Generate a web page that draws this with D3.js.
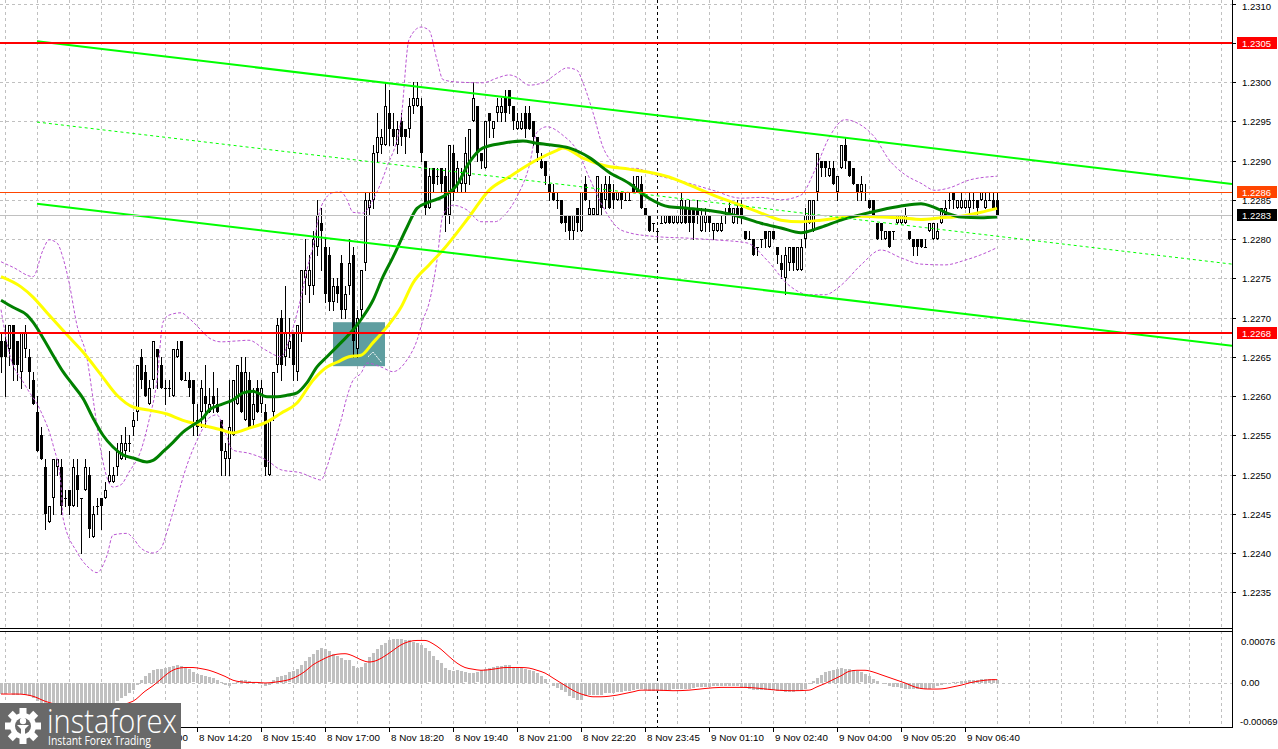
<!DOCTYPE html>
<html>
<head>
<meta charset="utf-8">
<script src="https://cdn.jsdelivr.net/npm/d3@7"></script>
<style>
html, body { margin: 0; padding: 0; background: #fff; }
svg { display: block; font-family: "Liberation Sans", Arial, sans-serif; }
</style>
</head>
<body>
<div id="chart"></div>
<script>
// ---- Data (bar index = 5-minute bar, 0 = first visible bar) ----
const openP = [
1.2267,1.2267,1.2266,1.2269,1.2267,1.2263,1.2266,1.2265,1.2262,1.2258,
1.2255,1.2251,1.2244,1.2247,1.2251,1.2251,1.2247,1.2248,1.2246,1.2250,
1.2247,1.2248,1.2250,1.2242,1.2246,1.2247,1.2247,1.2249,1.2249,1.2251,
1.2252,1.2253,1.2254,1.2256,1.2258,1.2265,1.2263,1.2259,1.2262,1.2266,
1.2264,1.2261,1.2261,1.2260,1.2265,1.2267,1.2262,1.2262,1.2262,1.2257,
1.2258,1.2260,1.2258,1.2260,1.2259,1.2257,1.2252,1.2252,1.2255,1.2259,
1.2263,1.2257,1.2262,1.2257,1.2261,1.2259,1.2258,1.2250,1.2258,1.2264,
1.2270,1.2265,1.2266,1.2268,1.2263,1.2268,1.2275,1.2274,1.2274,1.2279,
1.2282,1.2279,1.2278,1.2272,1.2274,1.2277,1.2271,1.2274,1.2278,1.2266,
1.2271,1.2277,1.2284,1.2285,1.2291,1.2292,1.2292,1.2296,1.2294,1.2292,
1.2295,1.2294,1.2294,1.2297,1.2297,1.2297,1.2290,1.2284,1.2289,1.2288,
1.2289,1.2288,1.2283,1.2291,1.2287,1.2287,1.2287,1.2288,1.2295,1.2297,
1.2291,1.2289,1.2296,1.2294,1.2296,1.2296,1.2298,1.2299,1.2297,1.2294,
1.2294,1.2296,1.2296,1.2295,1.2293,1.2290,1.2290,1.2287,1.2286,1.2285,
1.2285,1.2283,1.2283,1.2281,1.2284,1.2281,1.2287,1.2283,1.2283,1.2283,
1.2286,1.2285,1.2287,1.2286,1.2285,1.2286,1.2285,1.2285,1.2287,1.2286,
1.2287,1.2284,1.2283,1.2282,1.2281,1.2282,1.2282,1.2283,1.2282,1.2282,
1.2282,1.2284,1.2284,1.2284,1.2284,1.2281,1.2282,1.2283,1.2281,1.2281,
1.2281,1.2283,1.2284,1.2282,1.2284,1.2284,1.2281,1.2280,1.2280,1.2279,
1.2280,1.2281,1.2279,1.2281,1.2279,1.2277,1.2275,1.2277,1.2279,1.2276,
1.2276,1.2280,1.2282,1.2281,1.2286,1.2290,1.2290,1.2288,1.2289,1.2286,
1.2289,1.2292,1.2290,1.2289,1.2287,1.2286,1.2286,1.2285,1.2285,1.2282,
1.2282,1.2280,1.2281,1.2281,1.2282,1.2282,1.2282,1.2281,1.2280,1.2280,
1.2280,1.2279,1.2281,1.2280,1.2280,1.2282,1.2283,1.2285,1.2286,1.2284,
1.2284,1.2284,1.2284,1.2285,1.2285,1.2285,1.2284,1.2285,1.2285,1.2285
];
const highP = [
1.2268,1.2269,1.2269,1.2269,1.2267,1.2268,1.2269,1.2266,1.2263,1.2260,
1.2256,1.2252,1.2246,1.2252,1.2252,1.2252,1.2248,1.2248,1.2252,1.2252,
1.2247,1.2252,1.2251,1.2246,1.2247,1.2247,1.2249,1.2253,1.2251,1.2254,
1.2255,1.2256,1.2255,1.2258,1.2264,1.2266,1.2264,1.2262,1.2267,1.2266,
1.2265,1.2262,1.2262,1.2266,1.2267,1.2267,1.2263,1.2263,1.2262,1.2259,
1.2262,1.2264,1.2261,1.2263,1.2261,1.2257,1.2254,1.2262,1.2262,1.2264,
1.2265,1.2265,1.2263,1.2261,1.2262,1.2262,1.2259,1.2257,1.2263,1.2270,
1.2271,1.2274,1.2270,1.2268,1.2269,1.2276,1.2280,1.2278,1.2281,1.2285,
1.2284,1.2280,1.2279,1.2275,1.2275,1.2278,1.2274,1.2280,1.2279,1.2271,
1.2276,1.2286,1.2286,1.2292,1.2296,1.2294,1.2300,1.2299,1.2296,1.2295,
1.2296,1.2294,1.2298,1.2300,1.2300,1.2298,1.2290,1.2289,1.2289,1.2289,
1.2289,1.2289,1.2292,1.2292,1.2290,1.2289,1.2293,1.2294,1.2300,1.2297,
1.2291,1.2295,1.2296,1.2295,1.2298,1.2298,1.2299,1.2299,1.2297,1.2296,
1.2296,1.2297,1.2297,1.2295,1.2293,1.2291,1.2290,1.2288,1.2287,1.2286,
1.2285,1.2283,1.2283,1.2283,1.2284,1.2286,1.2288,1.2285,1.2284,1.2288,
1.2287,1.2288,1.2288,1.2287,1.2286,1.2286,1.2286,1.2286,1.2288,1.2288,
1.2288,1.2284,1.2283,1.2282,1.2281,1.2283,1.2283,1.2283,1.2283,1.2283,
1.2286,1.2285,1.2285,1.2284,1.2285,1.2284,1.2284,1.2283,1.2282,1.2282,
1.2283,1.2284,1.2285,1.2284,1.2285,1.2285,1.2281,1.2281,1.2280,1.2279,
1.2280,1.2281,1.2281,1.2281,1.2279,1.2278,1.2279,1.2279,1.2279,1.2279,
1.2280,1.2284,1.2285,1.2285,1.2291,1.2290,1.2290,1.2290,1.2290,1.2288,
1.2292,1.2293,1.2290,1.2289,1.2287,1.2288,1.2287,1.2285,1.2285,1.2282,
1.2282,1.2281,1.2281,1.2281,1.2283,1.2283,1.2284,1.2281,1.2280,1.2280,
1.2280,1.2280,1.2282,1.2282,1.2282,1.2284,1.2285,1.2286,1.2286,1.2285,
1.2286,1.2285,1.2286,1.2286,1.2285,1.2286,1.2286,1.2286,1.2286,1.2286
];
const lowP = [
1.2263,1.2260,1.2264,1.2262,1.2262,1.2261,1.2265,1.2261,1.2259,1.2253,
1.2252,1.2243,1.2244,1.2245,1.2250,1.2245,1.2246,1.2245,1.2246,1.2246,
1.2240,1.2248,1.2242,1.2242,1.2245,1.2243,1.2247,1.2249,1.2249,1.2250,
1.2252,1.2252,1.2253,1.2255,1.2257,1.2261,1.2260,1.2259,1.2261,1.2261,
1.2261,1.2259,1.2260,1.2260,1.2265,1.2262,1.2262,1.2260,1.2255,1.2255,
1.2256,1.2256,1.2258,1.2258,1.2258,1.2250,1.2250,1.2250,1.2255,1.2259,
1.2258,1.2257,1.2256,1.2256,1.2258,1.2258,1.2250,1.2250,1.2257,1.2263,
1.2262,1.2264,1.2265,1.2262,1.2262,1.2267,1.2273,1.2272,1.2273,1.2278,
1.2276,1.2272,1.2271,1.2271,1.2272,1.2270,1.2270,1.2273,1.2265,1.2265,
1.2270,1.2276,1.2283,1.2284,1.2290,1.2291,1.2292,1.2292,1.2292,1.2291,
1.2292,1.2291,1.2293,1.2296,1.2297,1.2290,1.2283,1.2284,1.2286,1.2287,
1.2286,1.2281,1.2282,1.2285,1.2286,1.2286,1.2286,1.2287,1.2295,1.2290,
1.2289,1.2289,1.2293,1.2293,1.2295,1.2295,1.2295,1.2296,1.2294,1.2294,
1.2294,1.2293,1.2294,1.2292,1.2290,1.2289,1.2287,1.2285,1.2285,1.2284,
1.2282,1.2281,1.2280,1.2280,1.2281,1.2281,1.2285,1.2283,1.2283,1.2283,
1.2283,1.2284,1.2284,1.2284,1.2285,1.2284,1.2285,1.2285,1.2286,1.2286,
1.2284,1.2283,1.2281,1.2281,1.2280,1.2282,1.2282,1.2282,1.2282,1.2282,
1.2282,1.2282,1.2281,1.2280,1.2282,1.2281,1.2281,1.2281,1.2280,1.2281,
1.2281,1.2282,1.2283,1.2282,1.2282,1.2282,1.2280,1.2280,1.2278,1.2278,
1.2279,1.2279,1.2279,1.2280,1.2277,1.2275,1.2273,1.2276,1.2276,1.2276,
1.2276,1.2279,1.2282,1.2281,1.2285,1.2288,1.2288,1.2288,1.2287,1.2285,
1.2289,1.2289,1.2288,1.2287,1.2285,1.2285,1.2285,1.2284,1.2283,1.2280,
1.2280,1.2280,1.2279,1.2280,1.2282,1.2282,1.2282,1.2280,1.2278,1.2278,
1.2279,1.2279,1.2281,1.2280,1.2280,1.2282,1.2283,1.2284,1.2284,1.2284,
1.2284,1.2284,1.2283,1.2284,1.2283,1.2285,1.2284,1.2285,1.2284,1.2283
];
const closeP = [
1.2265,1.2265,1.2269,1.2264,1.2264,1.2268,1.2268,1.2263,1.2259,1.2253,
1.2252,1.2245,1.2246,1.2252,1.2252,1.2246,1.2247,1.2246,1.2251,1.2248,
1.2247,1.2251,1.2243,1.2245,1.2246,1.2246,1.2248,1.2250,1.2250,1.2253,
1.2254,1.2254,1.2254,1.2257,1.2264,1.2262,1.2260,1.2261,1.2267,1.2265,
1.2261,1.2261,1.2261,1.2266,1.2266,1.2262,1.2262,1.2261,1.2259,1.2256,
1.2261,1.2259,1.2259,1.2259,1.2258,1.2253,1.2253,1.2256,1.2262,1.2264,
1.2258,1.2263,1.2256,1.2259,1.2258,1.2261,1.2251,1.2257,1.2263,1.2269,
1.2264,1.2268,1.2267,1.2264,1.2269,1.2276,1.2276,1.2276,1.2280,1.2283,
1.2281,1.2273,1.2272,1.2274,1.2273,1.2271,1.2273,1.2277,1.2267,1.2270,
1.2276,1.2285,1.2285,1.2291,1.2293,1.2293,1.2297,1.2294,1.2293,1.2294,
1.2293,1.2293,1.2297,1.2298,1.2298,1.2291,1.2284,1.2288,1.2287,1.2288,
1.2287,1.2283,1.2292,1.2286,1.2289,1.2288,1.2291,1.2294,1.2298,1.2291,
1.2290,1.2295,1.2295,1.2295,1.2297,1.2297,1.2296,1.2297,1.2295,1.2295,
1.2295,1.2294,1.2294,1.2293,1.2291,1.2289,1.2288,1.2286,1.2285,1.2285,
1.2282,1.2282,1.2281,1.2283,1.2282,1.2286,1.2285,1.2284,1.2284,1.2288,
1.2284,1.2287,1.2284,1.2285,1.2286,1.2285,1.2285,1.2285,1.2286,1.2288,
1.2284,1.2283,1.2281,1.2282,1.2281,1.2282,1.2283,1.2282,1.2283,1.2283,
1.2285,1.2282,1.2282,1.2282,1.2283,1.2283,1.2283,1.2282,1.2282,1.2282,
1.2282,1.2283,1.2283,1.2284,1.2283,1.2283,1.2280,1.2280,1.2278,1.2279,
1.2280,1.2280,1.2281,1.2280,1.2278,1.2276,1.2278,1.2279,1.2277,1.2279,
1.2279,1.2283,1.2285,1.2285,1.2291,1.2289,1.2289,1.2289,1.2287,1.2288,
1.2292,1.2290,1.2288,1.2287,1.2286,1.2287,1.2286,1.2284,1.2283,1.2280,
1.2281,1.2281,1.2279,1.2281,1.2283,1.2283,1.2283,1.2280,1.2279,1.2279,
1.2279,1.2279,1.2282,1.2282,1.2281,1.2284,1.2284,1.2285,1.2285,1.2285,
1.2285,1.2285,1.2285,1.2285,1.2284,1.2286,1.2285,1.2285,1.2284,1.2283
];

// moving averages and Bollinger bands: [bar, price]
const maSlow = [[0,1.22752],[5,1.22739],[8,1.22726],[11.5,1.22706],[16.5,1.22678],[20.5,1.22656],[25,1.22627],[29,1.22601],[33,1.22586],[37,1.22582],[41.5,1.22577],[45.5,1.22569],[50,1.22563],[55,1.22557],[58,1.22553],[62,1.22559],[66.5,1.22567],[70,1.22578],[74,1.22591],[78,1.22620],[81.5,1.22637],[84,1.22643],[87,1.22650],[90,1.22652],[93,1.22668],[96.5,1.22688],[100,1.22713],[103,1.22744],[107,1.22767],[110.5,1.22786],[117,1.22828],[122,1.22862],[127,1.22879],[134,1.22901],[139,1.22913],[140.5,1.22916],[145.5,1.22903],[150.5,1.22894],[157,1.22889],[162,1.22885],[167,1.22879],[172,1.22869],[180,1.22852],[185,1.22843],[190,1.22833],[195,1.22824],[200,1.22822],[205,1.22824],[210,1.22827],[215,1.22829],[220,1.22828],[225,1.22827],[230,1.22825],[235,1.22827],[240,1.22829],[245,1.22834],[249,1.22839]];
const maFast = [[0,1.22722],[3,1.22713],[6.5,1.22703],[8,1.22694],[10.5,1.22674],[13,1.22652],[15.5,1.22631],[18,1.22614],[20.5,1.22597],[23,1.22572],[25.5,1.22550],[28,1.22535],[30.5,1.22525],[33,1.22521],[36.5,1.22516],[38,1.22518],[40.5,1.22529],[43,1.22541],[45.5,1.22554],[48,1.22563],[50.5,1.22572],[52,1.22582],[55,1.22589],[58,1.22595],[60.5,1.22604],[63,1.22606],[66.5,1.22599],[69,1.22599],[71.5,1.22601],[74,1.22604],[76.5,1.22617],[79,1.22637],[81.5,1.22650],[85,1.22668],[88,1.22684],[90.5,1.22701],[93,1.22722],[95.5,1.22752],[98,1.22777],[101.5,1.22815],[104,1.22839],[107,1.22847],[110.5,1.22854],[114,1.22869],[117,1.22897],[120.5,1.22916],[125.5,1.22922],[130.5,1.22925],[134,1.22922],[137,1.22920],[142,1.22916],[147,1.22904],[152,1.22885],[157,1.22871],[162,1.22852],[167,1.22841],[172,1.22839],[180,1.22834],[185,1.22828],[190,1.22820],[195,1.22814],[200,1.22808],[205,1.22815],[210,1.22824],[215,1.22831],[220,1.22837],[225,1.22842],[230,1.22845],[233,1.22841],[236.5,1.22833],[240,1.22828],[245,1.22827],[249,1.22828]];
const bandUpper = [[0,1.22771],[3,1.22764],[8,1.22752],[10.5,1.22786],[12,1.22799],[14,1.22795],[15.5,1.22776],[17,1.22745],[19,1.22690],[21.5,1.22648],[23,1.22597],[25,1.22529],[26.5,1.22496],[28,1.22484],[30,1.22487],[32,1.22503],[35,1.22531],[37,1.22569],[39,1.22620],[40.5,1.22694],[42,1.22703],[45,1.22706],[47,1.22699],[50,1.22684],[52,1.22674],[55,1.22669],[58.5,1.22670],[62,1.22671],[66,1.22659],[70,1.22650],[72,1.22671],[75,1.22726],[76.5,1.22761],[78,1.22790],[80,1.22841],[83,1.22859],[85,1.22860],[86.5,1.22850],[88,1.22834],[90.5,1.22833],[93,1.22850],[96.5,1.22892],[100,1.22952],[102,1.23054],[105,1.23070],[107,1.23066],[109,1.23028],[110.5,1.23003],[114,1.23000],[120.5,1.22999],[124,1.23005],[127,1.23009],[129,1.23006],[132,1.22996],[135.5,1.22999],[139,1.23011],[141.5,1.23018],[144,1.23015],[145.5,1.22999],[148,1.22961],[150.5,1.22917],[153,1.22897],[155.5,1.22890],[159,1.22890],[162,1.22884],[165.5,1.22879],[169,1.22875],[172,1.22871],[178,1.22862],[185,1.22852],[190,1.22853],[195,1.22850],[200,1.22856],[203.5,1.22888],[207,1.22929],[211,1.22952],[215,1.22945],[218.5,1.22929],[222,1.22901],[226,1.22882],[230,1.22871],[233.5,1.22862],[237,1.22865],[242,1.22875],[249,1.22880]];
const bandLower = [[0,1.22710],[2,1.22656],[6,1.22614],[10,1.22580],[13,1.22538],[15,1.22487],[15.5,1.22445],[19,1.22401],[22,1.22381],[24,1.22375],[26.5,1.22397],[28,1.22423],[31.5,1.22425],[33,1.22419],[35,1.22406],[38,1.22400],[40,1.22406],[41.5,1.22427],[44,1.22470],[46.5,1.22512],[50,1.22554],[52,1.22572],[54,1.22576],[56,1.22554],[58,1.22531],[62,1.22527],[66.5,1.22518],[70,1.22506],[75,1.22502],[78,1.22496],[80,1.22493],[81.5,1.22510],[83,1.22535],[85,1.22569],[86.5,1.22599],[88,1.22620],[90,1.22629],[91.5,1.22642],[95,1.22637],[98,1.22631],[101.5,1.22646],[104,1.22671],[105.5,1.22697],[107,1.22718],[109,1.22773],[110.5,1.22831],[113,1.22843],[116.5,1.22837],[120,1.22822],[123.5,1.22822],[126,1.22831],[129,1.22854],[132,1.22892],[134,1.22936],[136.5,1.22943],[140.5,1.22932],[144,1.22913],[147,1.22879],[150.5,1.22841],[154,1.22815],[157,1.22808],[164,1.22803],[172,1.22801],[178,1.22799],[186.5,1.22795],[191.5,1.22773],[197,1.22741],[202,1.22729],[206,1.22729],[210,1.22741],[215,1.22767],[220,1.22786],[225,1.22776],[230,1.22768],[236,1.22767],[241,1.22773],[246,1.22782],[249,1.22789]];

// trend channel: [bar, price] end points
const channelUpper = [[9,1.23052],[307.75,1.22870]];
const channelMiddle = [[9,1.22949],[307.75,1.22768]];
const channelLower = [[9,1.22845],[307.75,1.22664]];

// horizontal levels
const levelPrices = [1.2305, 1.2268];
const askPrice = 1.2286;
const bidPrice = 1.2283;

// highlighted zone
const zoneBars = [83, 96];
const zonePrices = [1.22694, 1.22638];
const zoneMark = [[91.75,1.22650],[93,1.22656],[95.25,1.22642]];

// MACD main (histogram), per bar
const macdMain = [
-20e-5,-20e-5,-19e-5,-21e-5,-22e-5,-20e-5,-21e-5,-23e-5,-27e-5,-33e-5,
-38e-5,-46e-5,-52e-5,-53e-5,-54e-5,-56e-5,-56e-5,-56e-5,-54e-5,-54e-5,
-55e-5,-53e-5,-56e-5,-56e-5,-55e-5,-52e-5,-48e-5,-43e-5,-38e-5,-33e-5,
-28e-5,-23e-5,-18e-5,-12e-5,-4e-5,6e-5,12e-5,18e-5,23e-5,26e-5,
26e-5,27e-5,29e-5,31e-5,33e-5,31e-5,29e-5,25e-5,19e-5,17e-5,
15e-5,13e-5,10e-5,9e-5,6e-5,2e-5,-3e-5,-6e-5,-2e-5,1e-5,
5e-5,6e-5,3e-5,1e-5,0,-1e-5,-5e-5,-3e-5,5e-5,10e-5,
12e-5,15e-5,19e-5,21e-5,25e-5,33e-5,39e-5,47e-5,53e-5,59e-5,
63e-5,61e-5,57e-5,53e-5,49e-5,45e-5,42e-5,41e-5,30e-5,27e-5,
29e-5,37e-5,47e-5,54e-5,61e-5,69e-5,73e-5,78e-5,80e-5,80e-5,
79e-5,78e-5,77e-5,75e-5,73e-5,69e-5,63e-5,57e-5,49e-5,42e-5,
36e-5,27e-5,23e-5,21e-5,24e-5,21e-5,19e-5,18e-5,18e-5,19e-5,
24e-5,25e-5,27e-5,29e-5,30e-5,31e-5,33e-5,32e-5,29e-5,27e-5,
27e-5,25e-5,24e-5,21e-5,18e-5,12e-5,7e-5,0,-5e-5,-9e-5,
-12e-5,-17e-5,-23e-5,-27e-5,-30e-5,-30e-5,-24e-5,-21e-5,-21e-5,-21e-5,
-21e-5,-19e-5,-19e-5,-18e-5,-17e-5,-16e-5,-15e-5,-14e-5,-12e-5,-11e-5,
-11e-5,-13e-5,-15e-5,-15e-5,-15e-5,-14e-5,-12e-5,-12e-5,-11e-5,-11e-5,
-11e-5,-10e-5,-10e-5,-9e-5,-8e-5,-7e-5,-7e-5,-7e-5,-6e-5,-6e-5,
-6e-5,-6e-5,-6e-5,-6e-5,-6e-5,-7e-5,-9e-5,-11e-5,-12e-5,-12e-5,
-12e-5,-12e-5,-12e-5,-13e-5,-14e-5,-15e-5,-17e-5,-17e-5,-16e-5,-15e-5,
-14e-5,-10e-5,-1e-5,3e-5,9e-5,15e-5,19e-5,22e-5,24e-5,25e-5,
27e-5,26e-5,25e-5,23e-5,21e-5,19e-5,17e-5,12e-5,7e-5,3e-5,
0,-2e-5,-5e-5,-7e-5,-8e-5,-9e-5,-10e-5,-11e-5,-11e-5,-10e-5,
-10e-5,-11e-5,-10e-5,-9e-5,-6e-5,-4e-5,-2e-5,0,1e-5,2e-5,
3e-5,4e-5,5e-5,5e-5,6e-5,7e-5,7e-5,7e-5,7e-5,6e-5
];
// MACD signal line: [bar, value]
const macdSignal = [[0,-20e-5],[4,-20e-5],[8,-24e-5],[11,-33e-5],[16,-42e-5],[22,-46e-5],[28,-42e-5],[33,-33e-5],[36,-15e-5],[38,-5e-5],[40,7e-5],[42,19e-5],[44,26e-5],[46,28e-5],[48,28e-5],[50,26e-5],[52,23e-5],[54,18e-5],[56,12e-5],[58,5e-5],[60,2e-5],[62,1e-5],[64,1e-5],[66,0],[68,1e-5],[70,3e-5],[72,6e-5],[74,12e-5],[76,21e-5],[78,33e-5],[80,41e-5],[82,48e-5],[84,52e-5],[86,53e-5],[88,49e-5],[90,42e-5],[92,38e-5],[94,41e-5],[96,49e-5],[98,59e-5],[100,69e-5],[102,75e-5],[104,77e-5],[106,77e-5],[108,71e-5],[110,61e-5],[112,48e-5],[114,36e-5],[116,28e-5],[118,25e-5],[120,23e-5],[122,24e-5],[124,26e-5],[126,28e-5],[128,28e-5],[130,28e-5],[132,27e-5],[134,23e-5],[136,18e-5],[138,9e-5],[140,0],[142,-9e-5],[144,-17e-5],[146,-22e-5],[148,-25e-5],[150,-25e-5],[152,-24e-5],[154,-22e-5],[156,-19e-5],[158,-16e-5],[160,-13e-5],[164,-13e-5],[168,-14e-5],[172,-13e-5],[176,-10e-5],[180,-8e-5],[186,-8e-5],[190,-10e-5],[194,-13e-5],[198,-14e-5],[202,-13e-5],[204,-7e-5],[206,-1e-5],[208,6e-5],[210,13e-5],[212,21e-5],[214,23e-5],[216,23e-5],[218,20e-5],[220,15e-5],[222,10e-5],[224,5e-5],[226,0],[228,-6e-5],[230,-10e-5],[232,-11e-5],[234,-11e-5],[236,-10e-5],[238,-7e-5],[240,-4e-5],[242,0],[244,3e-5],[246,5e-5],[248,6e-5],[249,6e-5]];

// axis labels
const priceTicks = [1.2310,1.2305,1.2300,1.2295,1.2290,1.2285,1.2280,1.2275,1.2270,1.2265,1.2260,1.2255,1.2250,1.2245,1.2240,1.2235];
const macdTicks = [0.00076, 0, -0.00069];
const macdTickLabels = ["0.00076", "0.00", "-0.00069"];
// the labels for 10:20 and 11:40 sit fully under the logo in the source, only 13:00 peeks out
const timeLabelBars = [33,49,65,81,97,113,129,145,161,177,193,209,225,241];
const timeLabels = ["8 Nov 13:00","8 Nov 14:20","8 Nov 15:40","8 Nov 17:00","8 Nov 18:20","8 Nov 19:40","8 Nov 21:00","8 Nov 22:20","8 Nov 23:45","9 Nov 01:10","9 Nov 02:40","9 Nov 04:00","9 Nov 05:20","9 Nov 06:40"];
const daySeparatorBar = 164;

// ---- Layout ----
const W = 1278, H = 749;
const axisX = 1232, mainBottom = 628, macdTop = 631, macdBottom = 727;
const logoW = 181, logoTop = 703;

const x = d3.scaleLinear().domain([0, 1]).range([1, 5]);
const y = d3.scaleLinear().domain([1.2230, 1.2310]).range([631.5, 3.5]);
const ym = d3.scaleLinear().domain([-0.00069, 0.00076]).range([721.1, 641]);
const lastBar = x.invert(axisX);

const svg = d3.select("#chart").append("svg").attr("width", W).attr("height", H);
const defs = svg.append("defs");
defs.append("clipPath").attr("id", "clipMain").append("rect")
  .attr("x", 0).attr("y", 0).attr("width", axisX).attr("height", mainBottom);
defs.append("clipPath").attr("id", "clipMacd").append("rect")
  .attr("x", 0).attr("y", macdTop + 1).attr("width", axisX).attr("height", macdBottom - macdTop - 1);
defs.append("clipPath").attr("id", "clipTime").append("rect")
  .attr("x", logoW).attr("y", macdBottom).attr("width", axisX - logoW).attr("height", H - macdBottom);

const grid = "#c0c0c0";
const px = v => Math.round(x(v)) + 0.5;

// grid
const gGrid = svg.append("g").attr("shape-rendering", "crispEdges")
  .attr("stroke", grid).attr("stroke-dasharray", "3,3");
const gridBars = d3.range(1, lastBar, 8);
gGrid.selectAll("line.vm").data(gridBars).join("line")
  .attr("x1", d => px(d)).attr("x2", d => px(d)).attr("y1", 0).attr("y2", mainBottom);
gGrid.selectAll("line.vd").data(gridBars).join("line")
  .attr("x1", d => px(d)).attr("x2", d => px(d)).attr("y1", macdTop).attr("y2", macdBottom);
gGrid.selectAll("line.h").data(priceTicks).join("line")
  .attr("x1", 0).attr("x2", axisX).attr("y1", d => Math.round(y(d)) + 0.5).attr("y2", d => Math.round(y(d)) + 0.5);
gGrid.append("line").attr("x1", 0).attr("x2", axisX)
  .attr("y1", Math.round(ym(0)) + 0.5).attr("y2", Math.round(ym(0)) + 0.5);

// day separator
svg.append("line").attr("shape-rendering", "crispEdges")
  .attr("x1", px(daySeparatorBar)).attr("x2", px(daySeparatorBar))
  .attr("y1", 0).attr("y2", macdBottom)
  .attr("stroke", "#000").attr("stroke-dasharray", "3,3");

const main = svg.append("g").attr("clip-path", "url(#clipMain)");

// highlighted zone (background object)
main.append("rect")
  .attr("x", x(zoneBars[0])).attr("y", y(zonePrices[0]))
  .attr("width", x(zoneBars[1]) - x(zoneBars[0]))
  .attr("height", y(zonePrices[1]) - y(zonePrices[0]))
  .attr("fill", "#5f9ea0");
main.append("path").datum(zoneMark)
  .attr("d", d3.line().x(d => x(d[0])).y(d => y(d[1])))
  .attr("fill", "none").attr("stroke", "#fff").attr("stroke-width", 1).attr("stroke-dasharray", "2,1");

// candles
const candles = openP.map((o, i) => ({ i, o, h: highP[i], l: lowP[i], c: closeP[i] }));
const gC = main.append("g").attr("shape-rendering", "crispEdges");
gC.selectAll("line").data(candles).join("line")
  .attr("x1", d => px(d.i)).attr("x2", d => px(d.i))
  .attr("y1", d => Math.round(y(d.h))).attr("y2", d => Math.round(y(d.l)) + 1)
  .attr("stroke", "#000");
gC.selectAll("rect").data(candles).join("rect")
  .each(function (d) {
    const xc = Math.round(x(d.i));
    const yo = Math.round(y(d.o)), yc = Math.round(y(d.c));
    const r = d3.select(this);
    if (d.c > d.o) {
      r.attr("x", xc - 0.5).attr("y", yc + 0.5).attr("width", 2).attr("height", Math.max(yo - yc - 1, 0))
        .attr("fill", "#fff").attr("stroke", "#000");
    } else if (d.c < d.o) {
      r.attr("x", xc - 1).attr("y", yo).attr("width", 3).attr("height", Math.max(yc - yo, 1)).attr("fill", "#000");
    } else {
      r.attr("x", xc - 1).attr("y", yo).attr("width", 3).attr("height", 1).attr("fill", "#000");
    }
  });

// indicators
const priceLine = d3.line().x(d => x(d[0])).y(d => y(d[1])).curve(d3.curveMonotoneX);
[bandUpper, bandLower].forEach(b => {
  main.append("path").datum(b).attr("d", priceLine)
    .attr("fill", "none").attr("stroke", "#ba55d3").attr("stroke-width", 1).attr("stroke-dasharray", "3,2");
});
main.append("path").datum(maSlow).attr("d", priceLine)
  .attr("fill", "none").attr("stroke", "#ffff00").attr("stroke-width", 3);
main.append("path").datum(maFast).attr("d", priceLine)
  .attr("fill", "none").attr("stroke", "#008000").attr("stroke-width", 3);

// trend channel
const straight = d3.line().x(d => x(d[0])).y(d => y(d[1]));
[channelUpper, channelLower].forEach(c => {
  main.append("path").datum(c).attr("d", straight).attr("stroke", "#00ff00").attr("stroke-width", 2).attr("fill", "none");
});
main.append("path").datum(channelMiddle).attr("d", straight)
  .attr("stroke", "#00ff00").attr("stroke-width", 1).attr("stroke-dasharray", "3,3").attr("fill", "none");

// horizontal levels
const gLev = main.append("g").attr("shape-rendering", "crispEdges");
gLev.append("line").attr("x1", 0).attr("x2", axisX)
  .attr("y1", Math.round(y(bidPrice)) + 0.5).attr("y2", Math.round(y(bidPrice)) + 0.5).attr("stroke", "#c0c0c0");
gLev.append("line").attr("x1", 0).attr("x2", axisX)
  .attr("y1", Math.round(y(askPrice)) + 0.5).attr("y2", Math.round(y(askPrice)) + 0.5).attr("stroke", "#ff4500");
gLev.selectAll("line.lv").data(levelPrices).join("line")
  .attr("x1", 0).attr("x2", axisX).attr("y1", d => Math.round(y(d))).attr("y2", d => Math.round(y(d)))
  .attr("stroke", "#ff0000").attr("stroke-width", 2);

// MACD panel
const macd = svg.append("g").attr("clip-path", "url(#clipMacd)");
macd.append("g").attr("shape-rendering", "crispEdges").selectAll("rect").data(macdMain).join("rect")
  .attr("x", (d, i) => Math.round(x(i)) - 1).attr("width", 3)
  .attr("y", d => Math.round(Math.min(ym(d), ym(0))))
  .attr("height", d => Math.max(Math.round(Math.abs(ym(d) - ym(0))), d === 0 ? 0 : 1))
  .attr("fill", "#c0c0c0");
macd.append("path").datum(macdSignal)
  .attr("d", d3.line().x(d => x(d[0])).y(d => ym(d[1])).curve(d3.curveMonotoneX))
  .attr("fill", "none").attr("stroke", "#ff0000").attr("stroke-width", 1);

// frames
const gFrame = svg.append("g").attr("shape-rendering", "crispEdges").attr("stroke", "#000");
gFrame.append("line").attr("x1", axisX + 0.5).attr("x2", axisX + 0.5).attr("y1", 0).attr("y2", macdBottom + 1);
gFrame.append("line").attr("x1", 0).attr("x2", axisX).attr("y1", mainBottom + 0.5).attr("y2", mainBottom + 0.5);
gFrame.append("line").attr("x1", 0).attr("x2", axisX).attr("y1", macdTop + 0.5).attr("y2", macdTop + 0.5);
gFrame.append("line").attr("x1", 0).attr("x2", axisX).attr("y1", macdBottom + 0.5).attr("y2", macdBottom + 0.5);

// price axis
const gAx = svg.append("g");
gAx.selectAll("line").data(priceTicks).join("line").attr("shape-rendering", "crispEdges")
  .attr("x1", axisX).attr("x2", axisX + 4).attr("y1", d => Math.round(y(d)) + 0.5).attr("y2", d => Math.round(y(d)) + 0.5)
  .attr("stroke", "#000");
gAx.selectAll("text").data(priceTicks).join("text")
  .attr("x", axisX + 10).attr("y", d => Math.max(y(d) + 4, 9.5))
  .attr("font-size", "9.5px").attr("fill", "#000").text(d => d.toFixed(4));

// price boxes
const boxes = [
  { p: levelPrices[0], fill: "#ff0000" },
  { p: askPrice, fill: "#ff4500" },
  { p: bidPrice, fill: "#000000" },
  { p: levelPrices[1], fill: "#ff0000" }
];
const gBox = svg.append("g");
gBox.selectAll("rect").data(boxes).join("rect").attr("shape-rendering", "crispEdges")
  .attr("x", axisX + 5).attr("y", d => Math.round(y(d.p)) - 6).attr("width", 40).attr("height", 12)
  .attr("fill", d => d.fill);
gBox.selectAll("text").data(boxes).join("text")
  .attr("x", axisX + 10).attr("y", d => Math.round(y(d.p)) + 3.5)
  .attr("font-size", "9.5px").attr("fill", "#fff").text(d => d.p.toFixed(4));

// MACD axis
svg.append("g").selectAll("text").data(macdTicks).join("text")
  .attr("x", (d, i) => axisX + (i === 2 ? 8 : 9)).attr("y", d => ym(d) + 3.5)
  .attr("font-size", "9.5px").attr("fill", "#000").text((d, i) => macdTickLabels[i]);

// time axis (the logo covers its left end)
const gT = svg.append("g").attr("clip-path", "url(#clipTime)");
gT.selectAll("line").data(timeLabelBars).join("line").attr("shape-rendering", "crispEdges")
  .attr("x1", d => px(d)).attr("x2", d => px(d)).attr("y1", macdBottom).attr("y2", macdBottom + 5)
  .attr("stroke", "#000");
gT.selectAll("text").data(timeLabelBars).join("text")
  .attr("x", d => x(d) + 2).attr("y", 741)
  .attr("font-size", "9.8px").attr("fill", "#000").text((d, i) => timeLabels[i]);

// logo
const logo = svg.append("g");
logo.append("rect").attr("x", 0).attr("y", logoTop).attr("width", logoW).attr("height", H - logoTop).attr("fill", "#696969");
const gear = logo.append("g").attr("transform", "translate(23,726)");
gear.selectAll("rect").data(d3.range(8)).join("rect")
  .attr("x", -3.5).attr("y", -18).attr("width", 7).attr("height", 8).attr("fill", "#fff")
  .attr("transform", d => `rotate(${d * 45})`);
gear.append("circle").attr("r", 13).attr("fill", "#fff");
gear.append("circle").attr("r", 8).attr("fill", "#696969");
gear.append("circle").attr("cy", -5).attr("r", 3.2).attr("fill", "#fff");
gear.append("path").attr("d", "M-6,-1 L6,-1 L2,3 L2,14 L-2,14 L-2,3 Z").attr("fill", "#fff");
logo.append("text").attr("x", 47).attr("y", 733).attr("font-family", "'Open Sans', 'Noto Sans', sans-serif")
  .attr("font-size", "33px").attr("font-weight", 300).attr("fill", "#fff")
  .attr("textLength", 130).attr("lengthAdjust", "spacingAndGlyphs").text("instaforex");
logo.append("text").attr("x", 48).attr("y", 745).attr("font-family", "'Open Sans', 'Noto Sans', sans-serif")
  .attr("font-size", "13px").attr("fill", "#fff")
  .attr("textLength", 103).attr("lengthAdjust", "spacingAndGlyphs").text("Instant Forex Trading");
</script>
</body>
</html>
